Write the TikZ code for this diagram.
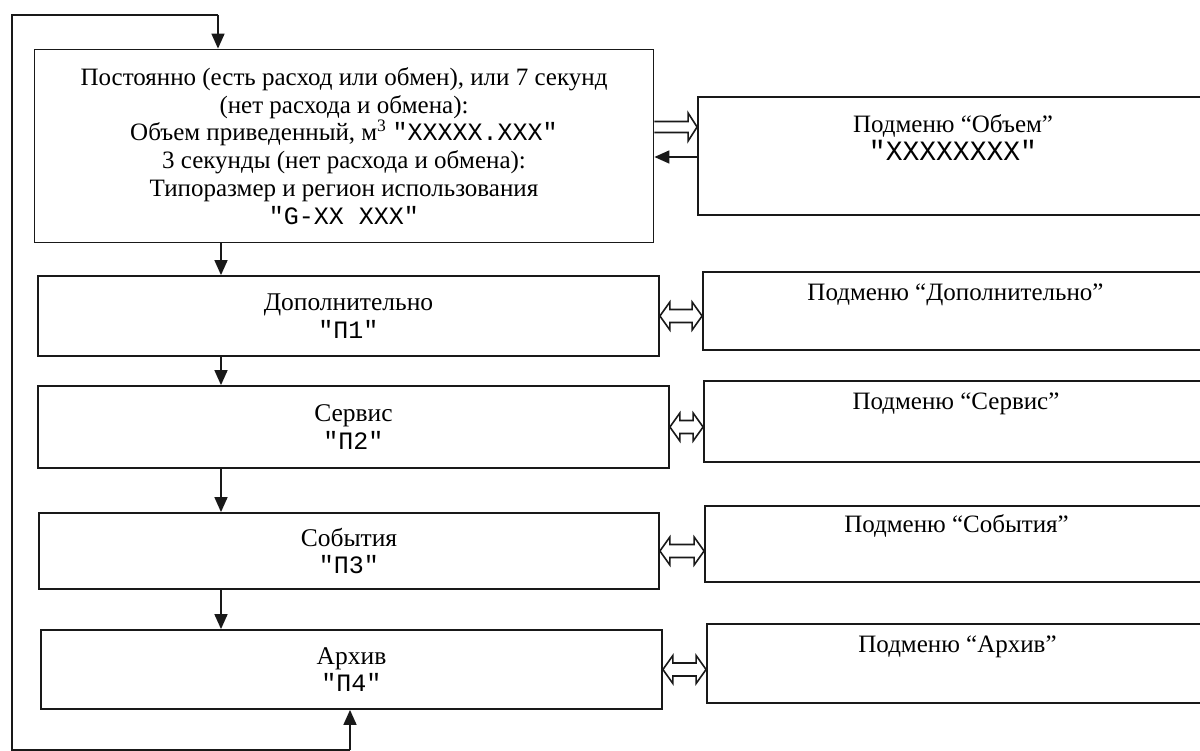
\documentclass[tikz,border=0pt]{standalone}
\usepackage{fontspec}
\setmainfont{Liberation Serif}
\newfontfamily\monofnt{Liberation Mono}
\usetikzlibrary{arrows.meta,calc}
\newcommand\hdarrow[2]{%
  \draw[hollow] let \p1=#1, \p2=#2 in
    (\x1,\y1) -- (\x1+10pt,\y1+14pt) -- (\x1+10pt,\y1+6.5pt) -- (\x2-10pt,\y1+6.5pt)
    -- (\x2-10pt,\y1+14pt) -- (\x2,\y1) -- (\x2-10pt,\y1-14pt) -- (\x2-10pt,\y1-6.5pt)
    -- (\x1+10pt,\y1-6.5pt) -- (\x1+10pt,\y1-14pt) -- cycle;}
\newcommand\hrarrow[2]{%
  \draw[hollow] let \p1=#1, \p2=#2 in
    (\x1,\y1+5.5pt) -- (\x2-9pt,\y1+5.5pt) -- (\x2-9pt,\y1+14pt) -- (\x2,\y1)
    -- (\x2-9pt,\y1-14pt) -- (\x2-9pt,\y1-5.5pt) -- (\x1,\y1-5.5pt);}
\tikzset{
  box/.style={draw=black!90, line width=1.8pt, rectangle, inner sep=0pt, align=center,
    font=\fontsize{25.5}{27.5}\selectfont},
  bigtxt/.style={font=\fontsize{25}{27.8}\selectfont},
  subtxt/.style={font=\fontsize{25}{27}\selectfont, align=center, inner sep=0pt},
  arr/.style={line width=1.6pt, draw=black!90, -{Triangle[length=15pt,width=13pt]}},
  hollow/.style={line width=1.6pt, draw=black!90, fill=white, line join=miter},
  loop/.style={line width=1.6pt, draw=black!90}
}
\newcommand\mq[1]{{\monofnt\fontsize{25}{27}\selectfont "#1"}}
\begin{document}
\begin{tikzpicture}[x=1pt,y=-1pt]
\useasboundingbox (0,0) rectangle (1200,751);
% main column
\node[box, bigtxt, minimum width=619pt, minimum height=193pt] (main) at (344,146)
 {Постоянно (есть расход или обмен), или 7 секунд\\
  (нет расхода и обмена):\\
  Объем приведенный, м\textsuperscript{3} \mq{XXXXX.XXX}\\
  3 секунды (нет расхода и обмена):\\
  Типоразмер и регион использования\\
  \mq{G-XX XXX}};
\node[box, minimum width=621pt, minimum height=80pt] (dop) at (348.5,316)
 {Дополнительно\\ \mq{П1}};
\node[box, minimum width=631pt, minimum height=82pt] (serv) at (353.5,427)
 {Сервис\\ \mq{П2}};
\node[box, minimum width=620pt, minimum height=76pt] (sob) at (349,551)
 {События\\ \mq{П3}};
\node[box, minimum width=621pt, minimum height=79pt] (arh) at (351.5,669.5)
 {Архив\\ \mq{П4}};
% submenu column
\node[box, minimum width=510pt, minimum height=118pt] (objsub) at (953,156) {};
\node[box, minimum width=505pt, minimum height=78pt] (dopsub) at (955.5,311) {};
\node[box, minimum width=504pt, minimum height=81pt] (servsub) at (956,421.5) {};
\node[box, minimum width=503pt, minimum height=76pt] (sobsub) at (956.5,544) {};
\node[box, minimum width=501pt, minimum height=79pt] (arhsub) at (957.5,663.5) {};
\node[subtxt] (objsubt) at ([yshift=-41pt]objsub.north)
 {Подменю “Объем”\\[1pt] {\monofnt\fontsize{28}{27}\selectfont "XXXXXXXX"}};
\node[subtxt] (dopsubt) at ([yshift=-24pt]dopsub.north) {Подменю “Дополнительно”};
\node[subtxt] (servsubt) at ([yshift=-24pt]servsub.north) {Подменю “Сервис”};
\node[subtxt] (sobsubt) at ([yshift=-21pt]sobsub.north) {Подменю “События”};
\node[subtxt] (arhsubt) at ([yshift=-24pt]arhsub.north) {Подменю “Архив”};
% coordinates
\coordinate (spine) at (221,0);
\coordinate (loopTL) at (12,15);
\coordinate (loopBL) at (12,750);
\coordinate (topin) at (218,15);
\coordinate (upx) at (350,750);
\coordinate (yfwd) at (0,127);
\coordinate (ybk) at (0,157);
% vertical flow
\draw[arr] (main.south -| spine) -- (dop.north -| spine);
\draw[arr] (dop.south -| spine) -- (serv.north -| spine);
\draw[arr] (serv.south -| spine) -- (sob.north -| spine);
\draw[arr] (sob.south -| spine) -- (arh.north -| spine);
% loop
\draw[loop] (upx) -- (loopBL) -- (loopTL) -- (topin);
\draw[arr] (topin) -- (main.north -| topin);
\draw[arr] (upx) -- (arh.south -| upx);
% submenu links
\hrarrow{(main.east |- yfwd)}{(objsub.west |- yfwd)}
\draw[arr] (objsub.west |- ybk) -- (main.east |- ybk);
\hdarrow{(dop.east)}{(dop.east -| dopsub.west)}
\hdarrow{(serv.east)}{(serv.east -| servsub.west)}
\hdarrow{(sob.east)}{(sob.east -| sobsub.west)}
\hdarrow{(arh.east)}{(arh.east -| arhsub.west)}
\end{tikzpicture}
\end{document}
